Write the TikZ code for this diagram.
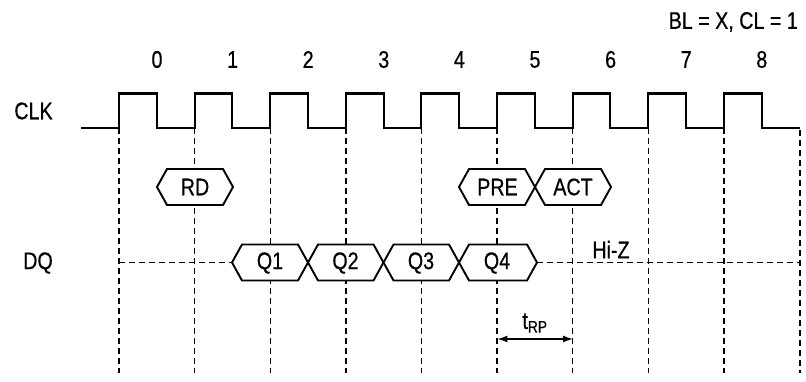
\documentclass[tikz,border=0pt]{standalone}
\usepackage{fontspec}
\setmainfont[FakeStretch=0.82,FakeBold=0.6]{Liberation Sans}
\usetikzlibrary{arrows.meta}
\begin{document}
\begin{tikzpicture}[x=1pt,y=-1pt,
  lbl/.style={inner sep=0pt,font=\fontsize{24}{28}\selectfont},
  clk/.style={line width=2.1pt,line join=miter},
  grid/.style={line width=1.4pt,dash pattern=on 6pt off 4pt,black},
  bus/.style={line width=1.9pt,fill=white,line join=miter},
  dim/.style={line width=1.4pt,{Latex[length=10pt,width=7pt]}-{Latex[length=10pt,width=7pt]}}]
\useasboundingbox (0,0) rectangle (806,382);
\newcommand\busseg[3]{%
  \draw[bus] (#1,#3) -- ({#1+10},{#3-18}) -- ({#2-10},{#3-18}) -- (#2,#3)
    -- ({#2-10},{#3+18}) -- ({#1+10},{#3+18}) -- cycle;}
% vertical dashed guides
\foreach \i in {0,...,8} {
  \coordinate (g\i) at ({119+75.6*\i},128);
  \coordinate (b\i) at ({119+75.6*\i},373);
  \draw[grid] (g\i) -- (b\i);
}
\coordinate (g9) at (800,130);
\coordinate (b9) at (800,373);
\draw[grid] (g9) -- (b9);
% clock
\draw[clk] (81,128) foreach \i in {0,...,8} {
  -- ({119+75.6*\i},128) -- ({119+75.6*\i},93.5)
  -- ({156.8+75.6*\i},93.5) -- ({156.8+75.6*\i},128) } -- (800,128);
% cycle numbers
\foreach \i in {0,...,8} {
  \node[lbl] (n\i) at ({157+75.6*\i},59.5) {\i};
}
\node[lbl,anchor=east] (blcl) at (798,22) {BL = X, CL = 1};
\node[lbl] (clk) at (33.5,111) {CLK};
\node[lbl] (dq) at (38,263) {DQ};
% DQ hi-z dashed lines
\coordinate (dqa) at (119,262.5);
\coordinate (dqb) at (232,262.5);
\coordinate (dqc) at (537,262.5);
\coordinate (dqd) at (800,262.5);
\draw[grid] (dqa) -- (dqb);
\draw[grid] (dqc) -- (dqd);
% command bus
\busseg{157}{233}{187}
\node[lbl] (rd) at (195,187) {RD};
\busseg{459}{535}{187}
\busseg{535}{611}{187}
\node[lbl] (pre) at (497.5,187) {PRE};
\node[lbl] (act) at (573,187) {ACT};
% data bus
\busseg{232}{308}{262.5}
\busseg{308}{383.5}{262.5}
\busseg{383.5}{459}{262.5}
\busseg{459}{537}{262.5}
\node[lbl] (q1) at (270,263) {Q1};
\node[lbl] (q2) at (345.5,263) {Q2};
\node[lbl] (q3) at (421,263) {Q3};
\node[lbl] (q4) at (497,263) {Q4};
\node[lbl] (hiz) at (611,249.5) {Hi-Z};
% tRP
\coordinate (ta) at (497.4,339);
\coordinate (tb) at (573,339);
\draw[dim] (ta) -- (tb);
\node[lbl] (trp) at (535,323) {t\textsubscript{RP}};
\end{tikzpicture}
\end{document}
